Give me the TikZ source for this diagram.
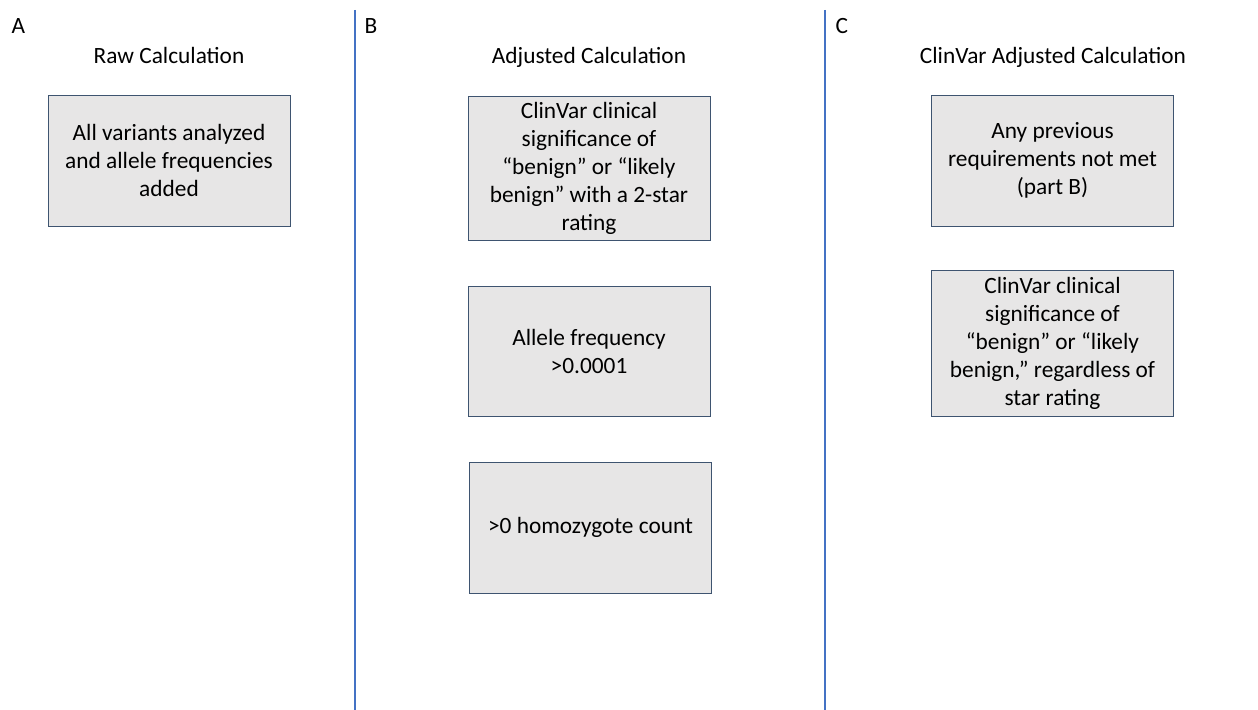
\documentclass[tikz,border=0pt]{standalone}
\usepackage{fontspec}
\setmainfont{Carlito}
\usepackage{tikz}

\definecolor{boxfill}{HTML}{E7E6E6}
\definecolor{boxline}{HTML}{3E5470}
\definecolor{divline}{HTML}{4472C4}

\begin{document}
\begin{tikzpicture}[x=0.75pt,y=-0.75pt,
		box_style/.style={rectangle,draw=boxline,fill=boxfill,line width=0.6pt,
			minimum width=181.5pt,align=center,inner sep=0pt,
			font=\fontsize{17.5}{21}\selectfont},
		title_style/.style={anchor=base,font=\fontsize{17.5}{21}\selectfont},
		letter_style/.style={anchor=base west,font=\fontsize{17.5}{21}\selectfont},
		div_style/.style={draw=divline,line width=0.8pt}]
		
		\useasboundingbox (0,0) rectangle (1258,710);
		
		\node[letter_style] (la) at (7,34) {A};
		\node[letter_style] (lb) at (360,34) {B};
		\node[letter_style] (lc) at (831,34) {C};
		
		\node[title_style] (ta) at (169,64) {Raw Calculation};
		\node[title_style] (tb) at (589,64) {Adjusted Calculation};
		\node[title_style] (tc) at (1053,64) {ClinVar Adjusted Calculation};
		
		\node[box_style,minimum height=98.25pt] (a1) at (169,160.5)
			{All variants analyzed\\and allele frequencies\\added};
		\node[box_style,minimum height=108pt] (b1) at (589,168)
			{ClinVar clinical\\significance of\\“benign” or “likely\\benign” with a 2-star\\rating};
		\node[box_style,minimum height=97.5pt] (b2) at (589,351)
			{Allele frequency\\>0.0001};
		\node[box_style,minimum height=98.25pt] (b3) at (590.5,527.5)
			{>0 homozygote count};
		\node[box_style,minimum height=98.25pt] (c1) at (1052.5,160.5)
			{Any previous\\requirements not met\\(part B)};
		\node[box_style,minimum height=109.5pt] (c2) at (1052.5,343)
			{ClinVar clinical\\significance of\\“benign” or “likely\\benign,” regardless of\\star rating};
		
		\coordinate (d1t) at (355,10);
		\coordinate (d1b) at (355,710);
		\coordinate (d2t) at (825,10);
		\coordinate (d2b) at (825,710);
		\draw[div_style] (d1t) -- (d1b);
		\draw[div_style] (d2t) -- (d2b);

		\end{tikzpicture}
\end{document}
